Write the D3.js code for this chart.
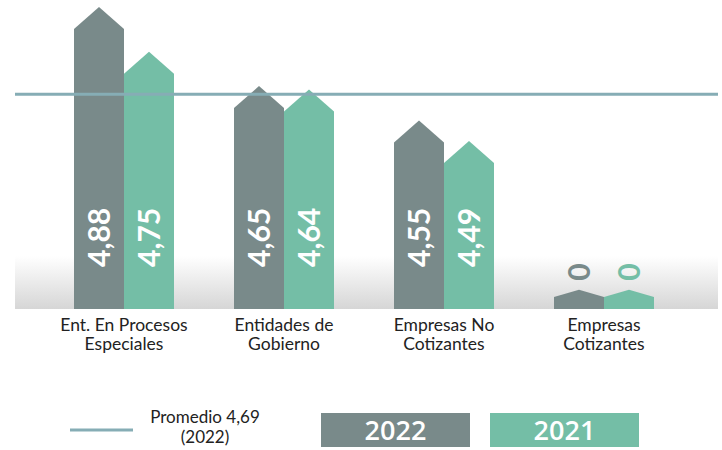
<!DOCTYPE html>
<html>
<head>
<meta charset="utf-8">
<script src="https://cdn.jsdelivr.net/npm/d3@7"></script>
<style>
  body { margin: 0; background: #fff; }
  svg { display: block; font-family: Lato, "Open Sans", sans-serif; }
</style>
</head>
<body>
<script>
// data
var categories = [['Ent. En Procesos', 'Especiales'], ['Entidades de', 'Gobierno'], ['Empresas No', 'Cotizantes'], ['Empresas', 'Cotizantes']];
var years = ['2022', '2021'];
var values2022 = [4.88, 4.65, 4.55, 0];
var values2021 = [4.75, 4.64, 4.49, 0];
var labels2022 = ['4,88', '4,65', '4,55', '0'];
var labels2021 = ['4,75', '4,64', '4,49', '0'];
var average = 4.69;
var averageLabel = ['Promedio 4,69', '(2022)'];

var w = 722, h = 450;
var colors = ['#798a8a', '#74bea6'];
var base = 309;

var svg = d3.select('body').append('svg')
  .attr('width', w)
  .attr('height', h)

var defs = svg.append('defs')
var grad = defs.append('linearGradient')
  .attr('id', 'band').attr('x1', 0).attr('y1', 0).attr('x2', 0).attr('y2', 1)
grad.append('stop').attr('offset', '0%').attr('stop-color', '#ffffff')
grad.append('stop').attr('offset', '100%').attr('stop-color', '#d6d6d6')

svg.append('rect')
  .attr('x', 15).attr('y', 256).attr('width', 703).attr('height', base - 256)
  .attr('fill', 'url(#band)')

var x0 = d3.scaleBand()
  .domain(d3.range(categories.length))
  .range([74, 654])
  .paddingInner(0.375)
  .paddingOuter(0)

var x1 = d3.scaleBand()
  .domain(years)
  .range([0, x0.bandwidth()])

// y scale, zero clamped to a small stub
var y = d3.scaleLinear()
  .domain([4.1, 4.88])
  .range([297, 29])
  .clamp(true)

var rows = [];
categories.forEach(function(c, i) {
  rows.push({ i: i, year: '2022', v: values2022[i], label: labels2022[i], color: colors[0] })
  rows.push({ i: i, year: '2021', v: values2021[i], label: labels2021[i], color: colors[1] })
})

function house(d) {
  var xl = x0(d.i) + x1(d.year), bw = x1.bandwidth();
  var top = y(d.v);
  var roof = Math.min(22, (base - top) * 0.6);
  return 'M' + xl + ',' + base + 'L' + xl + ',' + top + 'L' + (xl + bw / 2) + ',' + (top - roof) +
    'L' + (xl + bw) + ',' + top + 'L' + (xl + bw) + ',' + base + 'Z';
}

svg.selectAll('path.bar')
  .data(rows)
  .enter()
  .append('path')
  .attr('class', 'bar')
  .attr('d', house)
  .attr('fill', function(d) { return d.color })

// average line
svg.append('line')
  .attr('x1', 15).attr('x2', 718)
  .attr('y1', y(average)).attr('y2', y(average))
  .attr('stroke', '#86adb5').attr('stroke-width', 3)

var fs = 30;
svg.selectAll('text.val')
  .data(rows)
  .enter()
  .append('text')
  .attr('class', 'val')
  .attr('transform', function(d) {
    var cx = x0(d.i) + x1(d.year) + x1.bandwidth() / 2 + fs * 0.36;
    var top = y(d.v);
    var roof = Math.min(22, (base - top) * 0.6);
    var sy = d.v === 0 ? top - roof - 9 : base - 42;
    return 'translate(' + cx + ',' + sy + ')rotate(-90)';
  })
  .attr('font-size', fs)
  .attr('font-weight', 'bold')
  .attr('fill', function(d) { return d.v === 0 ? d.color : '#fff' })
  .text(function(d) { return d.label })

// category labels
var cat = svg.selectAll('text.cat')
  .data(categories)
  .enter()
  .append('text')
  .attr('class', 'cat')
  .attr('text-anchor', 'middle')
  .attr('font-size', 17.5)
  .attr('fill', '#222')
cat.selectAll('tspan')
  .data(function(d, i) { return d.map(function(t) { return { t: t, i: i } }) })
  .enter()
  .append('tspan')
  .attr('x', function(d) { return x0(d.i) + x0.bandwidth() / 2 })
  .attr('y', function(d, j) { return 331 + j * 19 })
  .text(function(d) { return d.t })

// legend
svg.append('line')
  .attr('x1', 70).attr('x2', 133).attr('y1', 430).attr('y2', 430)
  .attr('stroke', '#86adb5').attr('stroke-width', 3)
svg.append('text')
  .attr('text-anchor', 'middle')
  .attr('font-size', 17)
  .attr('fill', '#222')
  .selectAll('tspan')
  .data(averageLabel)
  .enter()
  .append('tspan')
  .attr('x', 205)
  .attr('y', function(d, j) { return 423 + j * 20 })
  .text(function(d) { return d })

var leg = svg.selectAll('g.leg')
  .data(years)
  .enter()
  .append('g')
  .attr('class', 'leg')
  .attr('transform', function(d, i) { return 'translate(' + (321 + i * 169) + ',413)' })
leg.append('rect')
  .attr('width', 149).attr('height', 34)
  .attr('fill', function(d, i) { return colors[i] })
leg.append('text')
  .attr('x', 74.5).attr('y', 27)
  .attr('text-anchor', 'middle')
  .attr('font-size', 27)
  .attr('font-weight', 600)
  .attr('font-family', '"Open Sans", sans-serif')
  .attr('fill', '#fff')
  .text(function(d) { return d })
</script>
</body>
</html>
